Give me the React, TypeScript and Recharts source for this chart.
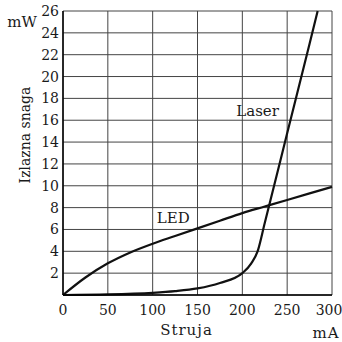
import { LineChart, Line, XAxis, YAxis, CartesianGrid, ReferenceDot, Label } from "recharts";

const ledCurrent = [0, 25, 50, 75, 100, 125, 150, 175, 200, 225, 250, 275, 300];
const ledPower = [0, 1.6, 2.9, 3.9, 4.7, 5.4, 6.1, 6.8, 7.5, 8.1, 8.7, 9.3, 9.9];

const laserCurrent = [0, 50, 100, 125, 150, 175, 200, 210, 217, 225, 250, 275, 284];
const laserPower = [0, 0.05, 0.2, 0.35, 0.6, 1.1, 2.0, 2.9, 4.0, 6.6, 14.8, 23.0, 26];

const xTicks = [0, 50, 100, 150, 200, 250, 300];
const yTicks = [0, 2, 4, 6, 8, 10, 12, 14, 16, 18, 20, 22, 24, 26];

const ledData = ledCurrent.map((x, i) => ({ x, y: ledPower[i] }));
const laserData = laserCurrent.map((x, i) => ({ x, y: laserPower[i] }));

const FONT = "DejaVu Serif";
const INK = "#1a1a1a";

function XTitle(props: any) {
  const { x, y, width } = props.viewBox;
  return (
    <g fontFamily={FONT} fill={INK} fontSize={15}>
      <text x={x + width / 2 - 11} y={y + 40} textAnchor="middle" letterSpacing={1}>Struja</text>
      <text x={x + width - 6} y={y + 43} textAnchor="middle" letterSpacing={1}>mA</text>
    </g>
  );
}

function YTitle(props: any) {
  const { y, height } = props.viewBox;
  const cy = y + height / 2 - 18;
  return (
    <g fontFamily={FONT} fill={INK} fontSize={14}>
      <text x={22} y={y + 16} fontSize={15} textAnchor="middle">mW</text>
      <text
        x={25}
        y={cy}
        textAnchor="middle"
        dominantBaseline="central"
        transform={`rotate(-90 25 ${cy})`}
      >
        Izlazna snaga
      </text>
    </g>
  );
}

function XTick(props: any) {
  const { x, y, payload } = props;
  const shift = payload.value === 300 ? -3 : 0;
  return (
    <text x={x + shift} y={y + 12} textAnchor="middle" fontSize={14} fill={INK} fontFamily={FONT}>
      {payload.value}
    </text>
  );
}

export default function App() {
  const tick = { fontSize: 14, fill: INK, fontFamily: FONT };
  return (
    <div style={{ position: "absolute", left: 0, top: 0, background: "#fff" }}>
      <LineChart width={342} height={342} margin={{ top: 11, right: 10, bottom: 17, left: 0 }}>
        <CartesianGrid stroke="#444" strokeWidth={1} />
        <XAxis
          type="number"
          dataKey="x"
          domain={[0, 300]}
          ticks={xTicks}
          interval={0}
          height={30}
          tick={<XTick />}
          tickLine={false}
          axisLine={{ stroke: "#000", strokeWidth: 1.5 }}
          tickMargin={2}
          label={<Label content={XTitle} />}
        />
        <YAxis
          type="number"
          dataKey="y"
          domain={[0, 26]}
          ticks={yTicks}
          interval={0}
          width={63}
          tick={tick}
          tickLine={false}
          tickSize={4}
          tickMargin={0}
          tickFormatter={(v: number) => (v === 0 ? "" : String(v))}
          axisLine={{ stroke: "#000", strokeWidth: 1.5 }}
          label={<Label content={YTitle} />}
        />
        <Line
          data={ledData}
          dataKey="y"
          type="monotone"
          stroke="#111"
          strokeWidth={2.2}
          dot={false}
          isAnimationActive={false}
        />
        <Line
          data={laserData}
          dataKey="y"
          type="monotone"
          stroke="#111"
          strokeWidth={2.2}
          dot={false}
          isAnimationActive={false}
        />
        <ReferenceDot
          x={123}
          y={7.05}
          r={0}
          label={{ value: "LED", fontSize: 15, fill: INK, fontFamily: FONT, position: "center" }}
        />
        <ReferenceDot
          x={217}
          y={16.9}
          r={0}
          label={{ value: "Laser", fontSize: 15, fill: INK, fontFamily: FONT, position: "center" }}
        />
      </LineChart>
    </div>
  );
}
